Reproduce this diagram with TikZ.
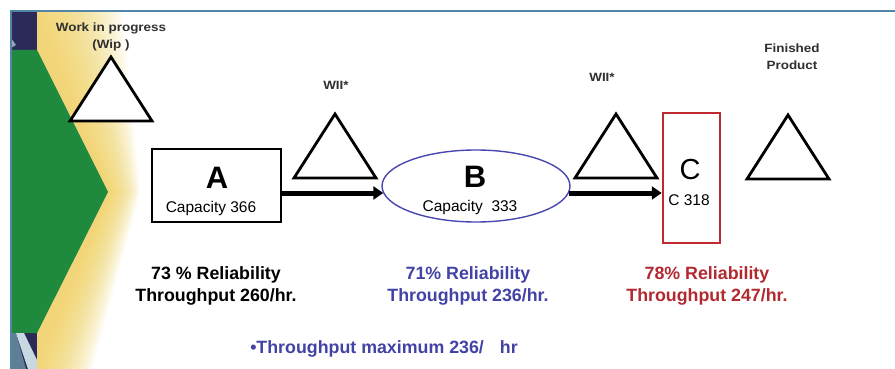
\documentclass[tikz,border=0pt]{standalone}
\usepackage{fontspec}
\setmainfont{Liberation Sans}
\newfontfamily\labelfont[FakeStretch=1.12]{Liberation Sans}
\usetikzlibrary{shapes.geometric,arrows.meta,calc}

\definecolor{framec}{HTML}{4F86A8}
\definecolor{navy}{HTML}{2B2A58}
\definecolor{leafgreen}{HTML}{1F8A3E}
\definecolor{glow}{HTML}{F3D565}
\definecolor{procblue}{HTML}{4848B0}
\definecolor{textblue}{HTML}{4343A6}
\definecolor{procred}{HTML}{BE2A30}
\definecolor{textred}{HTML}{B22A30}
\definecolor{labelgray}{HTML}{303030}
\definecolor{streak}{HTML}{C9D9E2}
\definecolor{steel}{HTML}{5E7F96}

\tikzset{
  smalllabel/.style={font=\labelfont\bfseries\fontsize{12}{17}\selectfont,
    text=labelgray, inner sep=0pt, align=center},
  stockpile/.pic={\draw[line width=2.8pt, line join=miter, fill=white]
    (0,0) -- (-41,64) -- (41,64) -- cycle;},
  procbox/.style={draw, line width=2pt, inner sep=0pt, fill=white},
  bigbold/.style={font=\bfseries\fontsize{31}{31}\selectfont, inner sep=0pt},
  bigplain/.style={font=\fontsize{29}{29}\selectfont, inner sep=0pt},
  capfont/.style={font=\fontsize{15.5}{18}\selectfont, inner sep=0pt},
  stats/.style={font=\bfseries\fontsize{17.8}{22}\selectfont, inner sep=0pt, align=center},
  flow/.style={line width=5pt, -{Triangle[length=10pt,width=13pt]}},
}

\begin{document}
\begin{tikzpicture}[x=1pt,y=-1pt]
\useasboundingbox (0,0) rectangle (895,369);
\fill[white] (0,0) rectangle (895,369);

% decorative left band: dark strip, soft yellow glow, green chevron
\fill[navy] (11,11) rectangle (37,369);
\foreach \t in {0,0.04,...,1.0} {
  \fill[glow, opacity=0.065]
    (37,11) -- ({37+85*\t},11) -- ({110+30*\t},192) -- ({37+55*\t},369) -- (37,369) -- cycle;
}
\fill[leafgreen] (11,50) -- (37,50) -- (108,192) -- (37,333) -- (11,333) -- cycle;
\fill[streak!70!navy] (11,38) -- (16,45) -- (11,48) -- cycle;
\fill[steel] (11,333) -- (16,333) -- (26,369) -- (11,369) -- cycle;
\fill[streak] (16,333) -- (24,333) -- (37,360) -- (37,369) -- (28,369) -- cycle;

% frame lines
\draw[framec, line width=2pt] (11,369) -- (11,11) -- (895,11);

% stockpiles
\node[smalllabel] (wiplabel) at (111,37) {Work in progress\\(Wip )};
\pic at (111,57) {stockpile};
\node[smalllabel] (wiiA) at (336,85) {WII*};
\pic at (335,114) {stockpile};
\node[smalllabel] (wiiB) at (602,77) {WII*};
\pic at (616,114) {stockpile};
\node[smalllabel] (finished) at (792,57) {Finished\\Product};
\pic at (788,115) {stockpile};

% processes
\node[procbox, minimum width=129pt, minimum height=73pt] (A) at (216.5,185.5) {};
\node[bigbold] (Aname) at (217,178) {A};
\node[capfont] (Acap) at (211,208) {Capacity 366};

\node[ellipse, draw=procblue, line width=1.4pt, fill=white, inner sep=0pt,
      minimum width=188pt, minimum height=72pt] (B) at (476,186) {};
\node[bigbold] (Bname) at (475,177) {B};
\node[capfont] (Bcap) at (470,207) {Capacity\ \ 333};

\node[procbox, draw=procred, line width=2.5pt, minimum width=57pt, minimum height=130pt] (C) at (691.5,178) {};
\node[bigplain] (Cname) at (690,170) {C};
\node[capfont] (Ccap) at (689,200) {C 318};

% material flow
\draw[flow] ($(A.east)+(0,7.5)$) -- ($(B.west)+(2,7)$);
\draw[flow] ($(B.east)+(-2,7)$) -- ($(C.west)+(0,15)$);

% figures
\node[stats] (Astats) at (216,286) {73 \% Reliability\\Throughput 260/hr.};
\node[stats, text=textblue] (Bstats) at (468,286) {71\% Reliability\\Throughput 236/hr.};
\node[stats, text=textred] (Cstats) at (707,286) {78\% Reliability\\Throughput 247/hr.};
\node[stats, text=textblue] (maxrate) at (384,349) {•Throughput maximum 236/\hspace{16pt}hr};
\end{tikzpicture}
\end{document}
